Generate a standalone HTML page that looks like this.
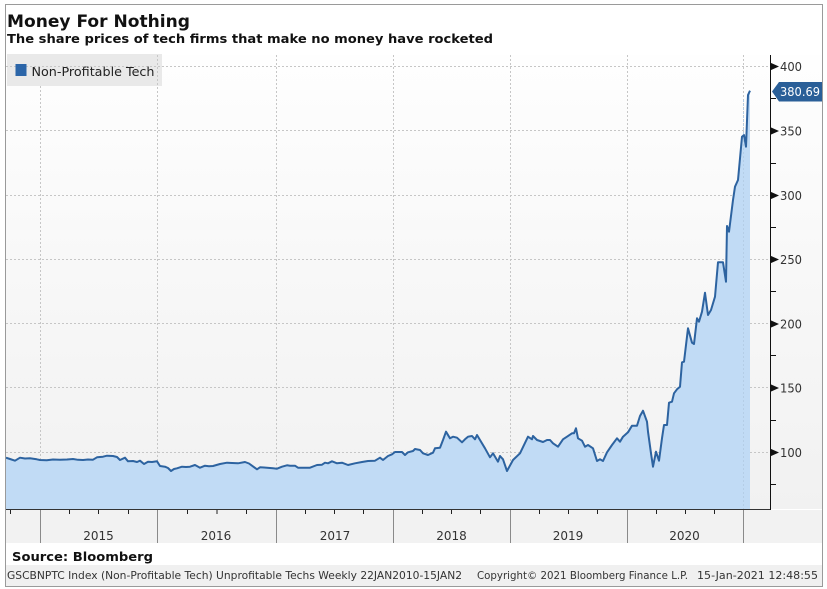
<!DOCTYPE html>
<html><head><meta charset="utf-8"><style>
html,body{margin:0;padding:0;background:#fff;}
svg{display:block;}
text{font-family:"DejaVu Sans","Liberation Sans",sans-serif;}
</style></head><body>
<svg width="827" height="589" viewBox="0 0 827 589" xmlns="http://www.w3.org/2000/svg">
<defs>
<linearGradient id="bg" x1="0" y1="0" x2="0" y2="1">
<stop offset="0" stop-color="#fefefe"/><stop offset="1" stop-color="#f1f1f1"/>
</linearGradient>
</defs>
<rect x="0" y="0" width="827" height="589" fill="#fff"/>
<!-- plot background -->
<rect x="6" y="55" width="816" height="454" fill="url(#bg)"/>
<!-- legend -->
<rect x="7" y="54" width="155" height="32" fill="#e9e9e9"/>
<!-- grids -->
<g stroke="#c6c6c6" stroke-width="1" stroke-dasharray="2,2" fill="none">
<line x1="6" y1="66.5" x2="770" y2="66.5"/>
<line x1="6" y1="130.5" x2="770" y2="130.5"/>
<line x1="6" y1="195.5" x2="770" y2="195.5"/>
<line x1="6" y1="259.5" x2="770" y2="259.5"/>
<line x1="6" y1="323.5" x2="770" y2="323.5"/>
<line x1="6" y1="387.5" x2="770" y2="387.5"/>
<line x1="6" y1="452.5" x2="770" y2="452.5"/>
<line x1="40.5" y1="86" x2="40.5" y2="509"/>
<line x1="157.5" y1="55" x2="157.5" y2="509"/>
<line x1="276.5" y1="55" x2="276.5" y2="509"/>
<line x1="393.5" y1="55" x2="393.5" y2="509"/>
<line x1="510.5" y1="55" x2="510.5" y2="509"/>
<line x1="627.5" y1="55" x2="627.5" y2="509"/>
<line x1="743.5" y1="55" x2="743.5" y2="509"/>
</g>
<rect x="15.5" y="64" width="11" height="12" fill="#2b65a8"/>
<text x="31.5" y="76" font-size="12" fill="#222" textLength="123" lengthAdjust="spacingAndGlyphs">Non-Profitable Tech</text>
<!-- series fill -->
<polygon fill="#c1dbf5" points="6,509 6,457.7 10,459 15,460.7 20,457.7 25,458.5 30,458.3 36.7,459.3 40,460 46.7,460.3 53,459.5 60,459.7 67,459.5 73,459 78,459.8 83,460 88,459.5 93,459.7 97,457.3 103,456.7 107,455.7 113,456 117,457 120,460 125,457.7 128,461.3 133,461 137,462 140,460.7 144,464 148,461.7 152,462 157,461.3 160,466 165,466.7 168,468 171,471 174,469 177,468.3 182,466.7 186,467 190,466.7 195,465 200,467.7 205,465.7 209,466.2 213,466 220,464 227,462.7 232,463 238,463.3 245,462 249,463.5 252,465.7 257,469.3 260,467.3 264,467.5 267,467.7 273,468.3 277,468.7 282,466.7 287,465.3 290,465.7 295,465.7 298,467.7 304,467.7 310,467.7 317,465 322,464.7 325,462.7 328,463.3 332,461.3 337,463.3 342,462.7 348,465 355,463.3 362,462 368,461 375,460.7 380,457.7 383,460 388,456 392,454.3 395,452 402,452 405,455 408,452.3 413,451 415,449 420,450 423,453.3 428,455 433,452.7 435,448.3 440,447.7 443,440 446,431.7 450,438.3 453,436.7 457,437.7 462,442.3 465,439.3 468,436.7 472,436 475,439.3 477,435 480,440 485,448.3 490,457.3 493,453.3 498,461.7 500,456 503,459.3 507,471 513,460 520,453.3 528,436.7 532,439.3 533,436 537,440 543,442 547,440 550,440 553,443.3 558,446.7 563,439.3 567,436.7 572,433.3 574,433.3 576,428.3 578,438.3 582,440.7 585,446.7 588,445 593,448.3 597,461 600,459.3 603,461 607,452.3 612,445 617,438.3 620,441.7 623,436.7 628,432.3 632,425.7 637,425.7 640,416 643,410.7 647,421.7 648,431.7 651,453.3 653,466.7 656,451.7 659,460.7 662,438.3 664,425 667,425 669,402.7 672,401.7 674,393.3 677,389.3 680,386.7 682,362.3 684,361.7 688,328.3 692,342.7 694,344 697,318.3 699,321.7 702,311.7 705,292.7 708,315 711,310 715,296.7 718,262.3 723,262.3 726,281.7 727,226 729,231.7 733,200 735,186.7 738,180 742,136.7 744,135 746,146.7 748,95 750,90.7 750,509"/>
<!-- grid over fill (faint) -->
<g stroke="#b4cde6" stroke-width="1" stroke-dasharray="2,2">
<line x1="743.5" y1="100" x2="743.5" y2="509"/>
</g>
<!-- series line -->
<polyline fill="none" stroke="#2d63a0" stroke-width="2" stroke-linejoin="round" points="6,457.7 10,459 15,460.7 20,457.7 25,458.5 30,458.3 36.7,459.3 40,460 46.7,460.3 53,459.5 60,459.7 67,459.5 73,459 78,459.8 83,460 88,459.5 93,459.7 97,457.3 103,456.7 107,455.7 113,456 117,457 120,460 125,457.7 128,461.3 133,461 137,462 140,460.7 144,464 148,461.7 152,462 157,461.3 160,466 165,466.7 168,468 171,471 174,469 177,468.3 182,466.7 186,467 190,466.7 195,465 200,467.7 205,465.7 209,466.2 213,466 220,464 227,462.7 232,463 238,463.3 245,462 249,463.5 252,465.7 257,469.3 260,467.3 264,467.5 267,467.7 273,468.3 277,468.7 282,466.7 287,465.3 290,465.7 295,465.7 298,467.7 304,467.7 310,467.7 317,465 322,464.7 325,462.7 328,463.3 332,461.3 337,463.3 342,462.7 348,465 355,463.3 362,462 368,461 375,460.7 380,457.7 383,460 388,456 392,454.3 395,452 402,452 405,455 408,452.3 413,451 415,449 420,450 423,453.3 428,455 433,452.7 435,448.3 440,447.7 443,440 446,431.7 450,438.3 453,436.7 457,437.7 462,442.3 465,439.3 468,436.7 472,436 475,439.3 477,435 480,440 485,448.3 490,457.3 493,453.3 498,461.7 500,456 503,459.3 507,471 513,460 520,453.3 528,436.7 532,439.3 533,436 537,440 543,442 547,440 550,440 553,443.3 558,446.7 563,439.3 567,436.7 572,433.3 574,433.3 576,428.3 578,438.3 582,440.7 585,446.7 588,445 593,448.3 597,461 600,459.3 603,461 607,452.3 612,445 617,438.3 620,441.7 623,436.7 628,432.3 632,425.7 637,425.7 640,416 643,410.7 647,421.7 648,431.7 651,453.3 653,466.7 656,451.7 659,460.7 662,438.3 664,425 667,425 669,402.7 672,401.7 674,393.3 677,389.3 680,386.7 682,362.3 684,361.7 688,328.3 692,342.7 694,344 697,318.3 699,321.7 702,311.7 705,292.7 708,315 711,310 715,296.7 718,262.3 723,262.3 726,281.7 727,226 729,231.7 733,200 735,186.7 738,180 742,136.7 744,135 746,146.7 748,95 750,90.7"/>
<!-- x-axis band -->
<rect x="6" y="510" width="816" height="33" fill="#f2f2f2"/>
<line x1="6" y1="509.5" x2="770.5" y2="509.5" stroke="#333" stroke-width="1"/>
<!-- y axis -->
<line x1="770.5" y1="55" x2="770.5" y2="510" stroke="#111" stroke-width="1"/>
<g fill="#111">
<polygon points="770,62.5 779,66.5 770,70.5"/>
<polygon points="770,127 779,131 770,135"/>
<polygon points="770,191.5 779,195.5 770,199.5"/>
<polygon points="770,255.5 779,259.5 770,263.5"/>
<polygon points="770,320 779,324 770,328"/>
<polygon points="770,384 779,388 770,392"/>
<polygon points="770,448.5 779,452.5 770,456.5"/>
</g>
<g stroke="#111" stroke-width="1">
<line x1="770" y1="98.5" x2="776" y2="98.5"/>
<line x1="770" y1="163.5" x2="776" y2="163.5"/>
<line x1="770" y1="227.5" x2="776" y2="227.5"/>
<line x1="770" y1="291.5" x2="776" y2="291.5"/>
<line x1="770" y1="355.5" x2="776" y2="355.5"/>
<line x1="770" y1="420.5" x2="776" y2="420.5"/>
<line x1="770" y1="484.5" x2="776" y2="484.5"/>
</g>
<g font-size="12" fill="#333">
<text x="780" y="71" textLength="22" lengthAdjust="spacingAndGlyphs">400</text>
<text x="780" y="135.5" textLength="22" lengthAdjust="spacingAndGlyphs">350</text>
<text x="780" y="200" textLength="22" lengthAdjust="spacingAndGlyphs">300</text>
<text x="780" y="264" textLength="22" lengthAdjust="spacingAndGlyphs">250</text>
<text x="780" y="328.5" textLength="22" lengthAdjust="spacingAndGlyphs">200</text>
<text x="780" y="392.5" textLength="22" lengthAdjust="spacingAndGlyphs">150</text>
<text x="780" y="457" textLength="22" lengthAdjust="spacingAndGlyphs">100</text>
</g>
<!-- last value label -->
<polygon points="772,91.5 779,82 822,82 822,101.5 779,101.5" fill="#2a5f98"/>
<text x="780" y="96" font-size="12" fill="#fff" textLength="40" lengthAdjust="spacingAndGlyphs">380.69</text>
<!-- quarter ticks -->
<g stroke="#222" stroke-width="1">
<line x1="10.5" y1="510" x2="10.5" y2="514"/>
<line x1="69.5" y1="510" x2="69.5" y2="514"/>
<line x1="98.5" y1="510" x2="98.5" y2="514"/>
<line x1="128.5" y1="510" x2="128.5" y2="514"/>
<line x1="187.5" y1="510" x2="187.5" y2="514"/>
<line x1="217" y1="510" x2="217" y2="514"/>
<line x1="246.5" y1="510" x2="246.5" y2="514"/>
<line x1="305.5" y1="510" x2="305.5" y2="514"/>
<line x1="334.5" y1="510" x2="334.5" y2="514"/>
<line x1="363.5" y1="510" x2="363.5" y2="514"/>
<line x1="422.5" y1="510" x2="422.5" y2="514"/>
<line x1="451.5" y1="510" x2="451.5" y2="514"/>
<line x1="480.5" y1="510" x2="480.5" y2="514"/>
<line x1="539.5" y1="510" x2="539.5" y2="514"/>
<line x1="568.5" y1="510" x2="568.5" y2="514"/>
<line x1="597.5" y1="510" x2="597.5" y2="514"/>
<line x1="656.5" y1="510" x2="656.5" y2="514"/>
<line x1="685.5" y1="510" x2="685.5" y2="514"/>
<line x1="714.5" y1="510" x2="714.5" y2="514"/>
</g>
<g stroke="#8a8a8a" stroke-width="1">
<line x1="40.5" y1="510" x2="40.5" y2="543"/>
<line x1="157.5" y1="510" x2="157.5" y2="543"/>
<line x1="276.5" y1="510" x2="276.5" y2="543"/>
<line x1="393.5" y1="510" x2="393.5" y2="543"/>
<line x1="510.5" y1="510" x2="510.5" y2="543"/>
<line x1="627.5" y1="510" x2="627.5" y2="543"/>
<line x1="743.5" y1="510" x2="743.5" y2="543"/>
</g>
<g font-size="12" fill="#333" text-anchor="middle">
<text x="98.5" y="540">2015</text>
<text x="216" y="540">2016</text>
<text x="335" y="540">2017</text>
<text x="451.5" y="540">2018</text>
<text x="568" y="540">2019</text>
<text x="684.5" y="540">2020</text>
</g>
<!-- titles -->
<text x="7" y="27" font-size="17" font-weight="bold" fill="#111" textLength="183" lengthAdjust="spacingAndGlyphs">Money For Nothing</text>
<text x="7" y="43" font-size="12" font-weight="bold" fill="#111" textLength="486" lengthAdjust="spacingAndGlyphs">The share prices of tech firms that make no money have rocketed</text>
<!-- source -->
<rect x="6" y="543" width="816" height="22" fill="#fff"/>
<text x="12" y="561" font-size="12.5" font-weight="bold" fill="#111" textLength="141" lengthAdjust="spacingAndGlyphs">Source:  Bloomberg</text>
<!-- footer -->
<rect x="6" y="565" width="816" height="21" fill="#f0f0f0"/>
<g font-size="10.5" fill="#333">
<text x="7" y="579" textLength="455" lengthAdjust="spacingAndGlyphs">GSCBNPTC Index (Non-Profitable Tech) Unprofitable Techs  Weekly 22JAN2010-15JAN2</text>
<text x="477" y="579" textLength="211" lengthAdjust="spacingAndGlyphs">Copyright© 2021 Bloomberg Finance L.P.</text>
<text x="697" y="579" textLength="121" lengthAdjust="spacingAndGlyphs">15-Jan-2021 12:48:55</text>
</g>
<!-- frame -->
<rect x="5.5" y="4.5" width="817" height="582" fill="none" stroke="#9a9a9a" stroke-width="1"/>
</svg>
</body></html>
